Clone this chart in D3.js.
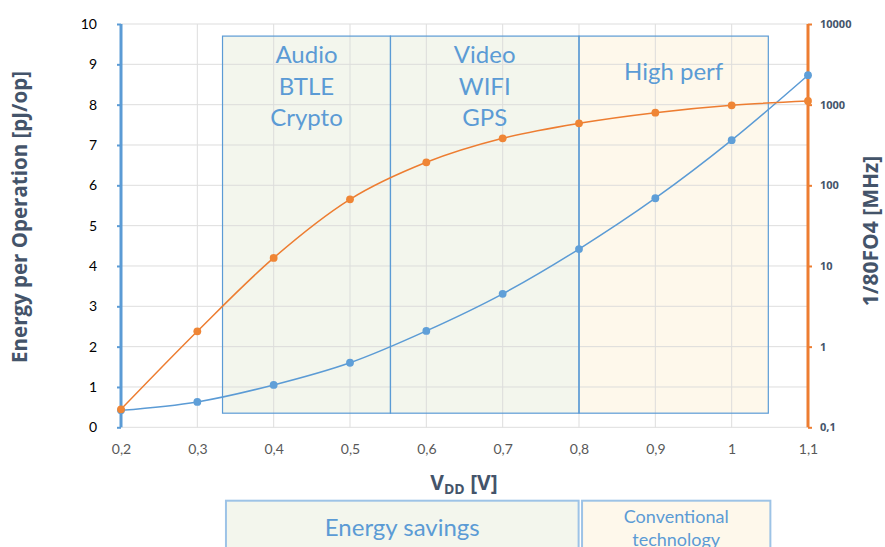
<!DOCTYPE html>
<html>
<head>
<meta charset="utf-8">
<script src="https://cdn.jsdelivr.net/npm/d3@7"></script>
<style>
  body { margin: 0; background: #fff; }
  svg { display: block; }
</style>
</head>
<body>
<svg id="chart" width="885" height="547"></svg>
<script>
// Supply voltage sweep
const vdd = [0.2, 0.3, 0.4, 0.5, 0.6, 0.7, 0.8, 0.9, 1.0, 1.1];
// Energy per operation [pJ/op] (left axis)
const energy = [0.42, 0.63, 1.05, 1.60, 2.39, 3.31, 4.42, 5.68, 7.12, 8.73];
// 1/80FO4 [MHz] (right, logarithmic axis)
const freq = [0.167, 1.55, 12.6, 67, 193, 383, 587, 795, 982, 1110];

const xTicks = [0.2, 0.3, 0.4, 0.5, 0.6, 0.7, 0.8, 0.9, 1.0, 1.1];
const xTickLabels = ["0,2", "0,3", "0,4", "0,5", "0,6", "0,7", "0,8", "0,9", "1", "1,1"];
const energyTicks = [0, 1, 2, 3, 4, 5, 6, 7, 8, 9, 10];
const freqTicks = [0.1, 1, 10, 100, 1000, 10000];
const freqTickLabels = ["0,1", "1", "10", "100", "1000", "10000"];

// Application regions along the VDD axis
const regionNames = ["low", "mid", "high"];
const regionStart = [0.333, 0.553, 0.8];
const regionEnd = [0.553, 0.8, 1.048];
const regionLabels = [["Audio", "BTLE", "Crypto"], ["Video", "WIFI", "GPS"], ["High perf"]];
const regionBottom = 0.35, regionTop = 9.7;

// Operating domains shown below the axis
const domainStart = [0.3375, 0.804];
const domainEnd = [0.7995, 1.0507];
const domainLabels = [["Energy savings"], ["Conventional", "technology"]];

(function draw() {
  const svg = d3.select("#chart");
  const pLeft = 121, pRight = 808, pTop = 24, pBottom = 427.3;

  const x = d3.scaleLinear().domain([0.2, 1.1]).range([pLeft, pRight]);
  const yE = d3.scaleLinear().domain([0, 10]).range([pBottom, pTop]);
  const yF = d3.scaleLog().domain([0.1, 10000]).range([pBottom, pTop]);

  const blue = "#5b9bd5", orange = "#ed7d31", slate = "#44546a";
  const fills = { low: "#f3f6ed", mid: "#f3f6ed", high: "#fef8eb" };
  const labelFont = "Lato, 'Open Sans', sans-serif";
  const titleFont = "'Open Sans', sans-serif";

  // Region fills
  svg.append("g").selectAll("rect").data(regionNames).join("rect")
    .attr("x", (d, i) => x(regionStart[i]))
    .attr("y", yE(regionTop))
    .attr("width", (d, i) => x(regionEnd[i]) - x(regionStart[i]))
    .attr("height", yE(regionBottom) - yE(regionTop))
    .attr("fill", d => fills[d]);

  // Gridlines
  const grid = svg.append("g").attr("stroke", "#d9d9d9").attr("stroke-width", 1).attr("opacity", 0.85);
  grid.selectAll("line.h").data(energyTicks).join("line").attr("class", "h")
    .attr("x1", pLeft).attr("x2", pRight)
    .attr("y1", d => yE(d)).attr("y2", d => yE(d));
  grid.selectAll("line.v").data(xTicks).join("line").attr("class", "v")
    .attr("x1", d => x(d)).attr("x2", d => x(d))
    .attr("y1", pTop).attr("y2", pBottom);

  // Region borders and labels
  svg.append("g").selectAll("rect").data(regionNames).join("rect")
    .attr("x", (d, i) => x(regionStart[i]))
    .attr("y", yE(regionTop))
    .attr("width", (d, i) => x(regionEnd[i]) - x(regionStart[i]))
    .attr("height", yE(regionBottom) - yE(regionTop))
    .attr("fill", "none").attr("stroke", blue).attr("stroke-width", 1.2);

  const regionText = svg.append("g").attr("font-family", labelFont)
    .attr("font-size", 24).attr("fill", blue).attr("text-anchor", "middle");
  regionLabels.forEach((lines, i) => {
    const cx = x((regionStart[i] + regionEnd[i]) / 2);
    const y0 = lines.length === 1 ? 80 : 63.3;
    lines.forEach((t, j) => {
      regionText.append("text").attr("x", cx).attr("y", y0 + j * 31.4).text(t);
    });
  });

  // Domain boxes below the axis (they run past the bottom edge of the page)
  const domainY = 500.7;
  svg.append("g").selectAll("rect").data(domainLabels).join("rect")
    .attr("x", (d, i) => x(domainStart[i]))
    .attr("y", domainY)
    .attr("width", (d, i) => x(domainEnd[i]) - x(domainStart[i]))
    .attr("height", 80)
    .attr("fill", (d, i) => i === 0 ? fills.low : fills.high)
    .attr("stroke", "#9dc3e6").attr("stroke-width", 2);

  const domText = svg.append("g").attr("font-family", labelFont)
    .attr("fill", blue).attr("text-anchor", "middle");
  domText.append("text").attr("x", x((domainStart[0] + domainEnd[0]) / 2)).attr("y", 536)
    .attr("font-size", 24).text(domainLabels[0][0]);
  domainLabels[1].forEach((t, j) => {
    domText.append("text").attr("x", x((domainStart[1] + domainEnd[1]) / 2)).attr("y", 522.7 + j * 23)
      .attr("font-size", 18).text(t);
  });

  // Left axis
  const axL = svg.append("g").attr("transform", `translate(${pLeft},0)`)
    .call(d3.axisLeft(yE).tickValues(energyTicks).tickSize(4).tickPadding(20).tickFormat(d3.format("d")));
  axL.select(".domain").attr("stroke", blue).attr("stroke-width", 3).attr("d", `M0,${pTop}V${pBottom}`);
  axL.selectAll(".tick line").attr("stroke", blue).attr("stroke-width", 2);
  axL.selectAll(".tick text").attr("font-family", labelFont).attr("font-size", 14).attr("fill", "#000");

  // Right axis
  const axR = svg.append("g").attr("transform", `translate(${pRight},0)`)
    .call(d3.axisRight(yF).tickValues(freqTicks).tickSize(4).tickPadding(8)
      .tickFormat((d, i) => freqTickLabels[i]));
  axR.select(".domain").attr("stroke", orange).attr("stroke-width", 3).attr("d", `M0,${pTop}V${pBottom}`);
  axR.selectAll(".tick line").attr("stroke", orange).attr("stroke-width", 2);
  axR.selectAll(".tick text").attr("font-family", titleFont).attr("font-size", 11)
    .attr("font-weight", "bold").attr("fill", slate);

  // Bottom axis (labels only)
  const axB = svg.append("g").attr("transform", `translate(0,${pBottom})`)
    .call(d3.axisBottom(x).tickValues(xTicks).tickSize(0).tickPadding(17)
      .tickFormat((d, i) => xTickLabels[i]));
  axB.select(".domain").remove();
  axB.selectAll(".tick text").attr("font-family", labelFont).attr("font-size", 14).attr("fill", "#595959");

  // Series
  const lineE = d3.line().x((d, i) => x(vdd[i])).y(d => yE(d)).curve(d3.curveMonotoneX);
  const lineF = d3.line().x((d, i) => x(vdd[i])).y(d => yF(d)).curve(d3.curveMonotoneX);

  svg.append("path").datum(energy).attr("d", lineE)
    .attr("fill", "none").attr("stroke", blue).attr("stroke-width", 1.5);
  svg.append("path").datum(freq).attr("d", lineF)
    .attr("fill", "none").attr("stroke", orange).attr("stroke-width", 1.5);

  svg.append("g").selectAll("circle").data(energy).join("circle")
    .attr("cx", (d, i) => x(vdd[i])).attr("cy", d => yE(d)).attr("r", 3.9).attr("fill", "#5f9fd8");
  svg.append("g").selectAll("circle").data(freq).join("circle")
    .attr("cx", (d, i) => x(vdd[i])).attr("cy", d => yF(d)).attr("r", 3.9).attr("fill", "#ef8535");

  // Axis titles
  svg.append("text").attr("transform", `translate(27,217) rotate(-90)`)
    .attr("text-anchor", "middle").attr("font-family", titleFont).attr("font-size", 20.5)
    .attr("font-weight", "bold").attr("fill", slate).text("Energy per Operation [pJ/op]");
  svg.append("text").attr("transform", `translate(878,231) rotate(-90)`)
    .attr("text-anchor", "middle").attr("font-family", titleFont).attr("font-size", 21)
    .attr("font-weight", "bold").attr("fill", slate).text("1/80FO4 [MHz]");

  const xt = svg.append("text").attr("x", 464).attr("y", 490).attr("text-anchor", "middle")
    .attr("font-family", titleFont).attr("font-size", 21).attr("font-weight", "bold").attr("fill", slate);
  xt.append("tspan").text("V");
  xt.append("tspan").attr("font-size", 14).attr("dy", 4).text("DD");
  xt.append("tspan").attr("dy", -4).text(" [V]");
})();
</script>
</body>
</html>
